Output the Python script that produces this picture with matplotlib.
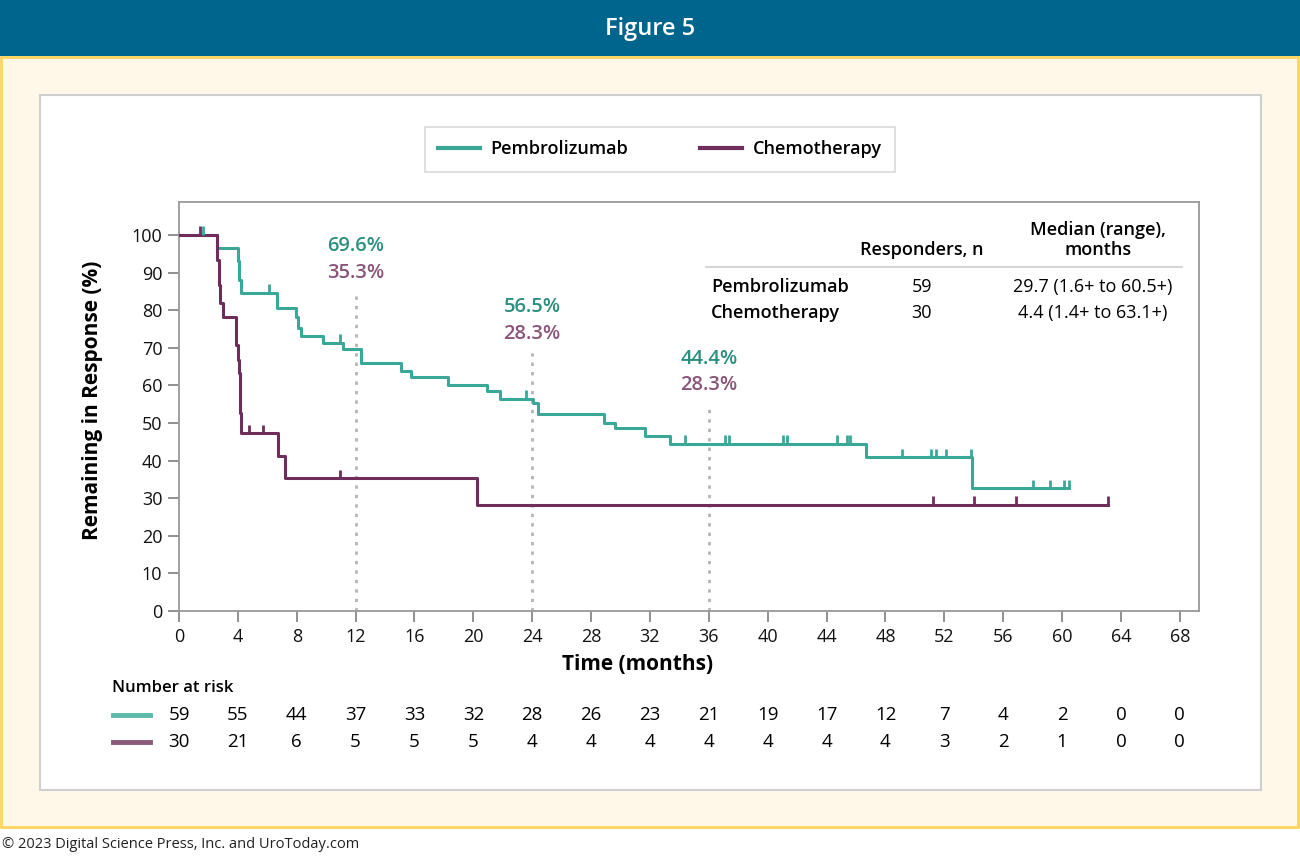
"""
Figure 5 - Duration of response, pembrolizumab vs chemotherapy
"""
import numpy as np
import matplotlib
matplotlib.use("Agg")
import matplotlib.pyplot as plt
from matplotlib.patches import Rectangle
from matplotlib.lines import Line2D
import matplotlib.transforms as mtransforms

plt.rcParams["font.family"] = ["Open Sans", "DejaVu Sans"]

# ── data ────────────────────────────────────────────────────────────────────
pem_t = [0, 2.56, 4.0, 4.1, 4.2, 6.68, 7.95, 8.1, 8.3, 9.8, 11.16, 12.34, 15.06,
         15.74, 18.3, 20.9, 21.8, 24.07, 24.4, 28.87, 29.6, 31.66, 33.36, 46.67,
         53.85, 60.5]
pem_s = [100, 96.6, 93.2, 88.1, 84.7, 80.5, 78.3, 75.2, 73.1, 71.4, 69.6, 65.9,
         63.8, 62.3, 60.1, 58.5, 56.5, 55.2, 52.4, 50.1, 48.6, 46.5, 44.4, 40.9,
         32.6, 32.6]
pem_cens = [1.6, 6.1, 10.94, 23.6, 34.4, 37.1, 37.4, 41.05, 41.3, 44.7, 45.4, 45.6,
            49.1, 51.1, 51.4, 52.1, 53.8, 58.0, 59.2, 60.1, 60.5]

chemo_t = [0, 2.6, 2.7, 2.8, 2.97, 3.85, 4.03, 4.1, 4.15, 4.2, 6.75, 7.2, 20.25, 63.1]
chemo_s = [100, 93.3, 86.7, 81.8, 78.1, 70.7, 66.7, 63.2, 52.6, 47.3, 41.2, 35.3,
           28.3, 28.3]
chemo_cens = [1.4, 4.73, 5.68, 10.94, 51.2, 54.0, 56.9, 63.1]

landmark_months = [12, 24, 36]
landmark_pem = ["69.6%", "56.5%", "44.4%"]
landmark_chemo = ["35.3%", "28.3%", "28.3%"]

risk_months = list(range(0, 72, 4))
risk_pem = [59, 55, 44, 37, 33, 32, 28, 26, 23, 21, 19, 17, 12, 7, 4, 2, 0, 0]
risk_chemo = [30, 21, 6, 5, 5, 5, 4, 4, 4, 4, 4, 4, 4, 3, 2, 1, 0, 0]

table_rows = ["Pembrolizumab", "Chemotherapy"]
table_n = ["59", "30"]
table_median = ["29.7 (1.6+ to 60.5+)", "4.4 (1.4+ to 63.1+)"]

TEAL = "#3aa897"
PURPLE = "#6f2d5c"
TEAL_TXT = "#2a8f7d"
PURPLE_TXT = "#8a5579"
W, H = 1300, 856


def fx(px):
    return px / W


def fy(py):
    return 1 - py / H


fig = plt.figure(figsize=(13, 8.56), dpi=100, facecolor="white")

# ── frame: header band, cream panel, white card ────────────────────────────
fig.patches.append(Rectangle((0, fy(56)), 1, 56 / H, transform=fig.transFigure,
                             facecolor="#00658c", edgecolor="none", zorder=-3))
fig.patches.append(Rectangle((fx(1), fy(827)), fx(1297), (827 - 57) / H,
                             transform=fig.transFigure, facecolor="#fff8e8",
                             edgecolor="#ffd45c", linewidth=2, zorder=-3))
fig.patches.append(Rectangle((fx(40), fy(790)), fx(1221), (790 - 95) / H,
                             transform=fig.transFigure, facecolor="white",
                             edgecolor="#cfcfcf", linewidth=1.5, zorder=-2))
fig.text(0.5, fy(29), "Figure 5", color="white", fontsize=17, fontweight="semibold",
         ha="center", va="center")
fig.text(fx(2), fy(845), "© 2023 Digital Science Press, Inc. and UroToday.com",
         fontsize=10.5, color="#222222", ha="left", va="center")

# ── KM plot ─────────────────────────────────────────────────────────────────
ax = fig.add_axes([fx(179), fy(611), fx(1199) - fx(179), (611 - 202) / H])
ax.set_zorder(2)
ax.set_facecolor("white")
ax.set_xlim(0, 69.3)
ax.set_ylim(0, 108.8)

ax.step(pem_t, pem_s, where="post", color=TEAL, lw=2.2, zorder=3)
ax.step(chemo_t, chemo_s, where="post", color=PURPLE, lw=2.2, zorder=3)


def surv_at(times, surv, t):
    i = np.searchsorted(times, t, side="right") - 1
    return np.asarray(surv)[i]


ps = surv_at(pem_t, pem_s, pem_cens)
cs = surv_at(chemo_t, chemo_s, chemo_cens)
ax.vlines(pem_cens, ps, ps + 2.3, color=TEAL, lw=2, zorder=3)
ax.vlines(chemo_cens, cs, cs + 2.3, color=PURPLE, lw=2, zorder=3)

# landmark lines and labels
tops = [84.8, 68.6, 54.8]
ax.vlines(landmark_months, 0, tops, colors="#b5b5b5", linestyles=(0, (1.2, 2.2)),
          lw=2, zorder=2)
for m, top, tp, tc in zip(landmark_months, tops, landmark_pem, landmark_chemo):
    ax.text(m, top + 12.3, tp, color=TEAL_TXT, fontsize=14.5, fontweight="semibold",
            ha="center", va="center")
    ax.text(m, top + 5.2, tc, color=PURPLE_TXT, fontsize=14.5, fontweight="semibold",
            ha="center", va="center")

ax.set_xticks(range(0, 72, 4))
ax.set_yticks(range(0, 110, 10))
ax.tick_params(colors="#888888", labelcolor="#111111", labelsize=13, length=8,
               width=1.3, pad=4)
for sp in ax.spines.values():
    sp.set_color("#999999")
    sp.set_linewidth(1.3)

fig.text(fx(93), fy(400), "Remaining in Response (%)", rotation=90, fontsize=15,
         fontweight="bold", ha="center", va="center")
fig.text(fx(638), fy(664), "Time (months)", fontsize=15, fontweight="bold",
         ha="center", va="center")

# ── legend ──────────────────────────────────────────────────────────────────
handles = [Line2D([], [], color=TEAL, lw=3), Line2D([], [], color=PURPLE, lw=3)]
leg = fig.legend(handles, ["Pembrolizumab", "Chemotherapy"], ncol=2,
                 loc="center", bbox_to_anchor=(fx(660), fy(149.5)),
                 prop={"size": 13, "weight": "semibold"},
                 frameon=True, fancybox=False, edgecolor="#cfcfcf",
                 handlelength=2.3, handletextpad=0.6, columnspacing=4.0,
                 borderpad=0.75)
leg.get_frame().set_linewidth(1.2)

# ── inset table ─────────────────────────────────────────────────────────────
fig.text(fx(922), fy(250), "Responders, n", fontsize=13, fontweight="semibold",
         ha="center", va="center")
fig.text(fx(1098), fy(240), "Median (range),\nmonths", fontsize=13,
         fontweight="semibold", ha="center", va="center", linespacing=1.1)
fig.add_artist(Line2D([fx(706), fx(1182)], [fy(267), fy(267)], color="#cccccc",
                      lw=1.2, transform=fig.transFigure, zorder=5))
for i, (name, n, med) in enumerate(zip(table_rows, table_n, table_median)):
    yy = fy(287 + 26 * i)
    fig.text(fx(711), yy, name, fontsize=13, fontweight="semibold", ha="left",
             va="center", zorder=5)
    fig.text(fx(922), yy, n, fontsize=13, ha="center", va="center", zorder=5)
    fig.text(fx(1093), yy, med, fontsize=13, ha="center", va="center", zorder=5)

# ── number at risk ──────────────────────────────────────────────────────────
fig.text(fx(112), fy(688), "Number at risk", fontsize=12, fontweight="semibold",
         ha="left", va="center")
trans = mtransforms.blended_transform_factory(ax.transData, fig.transFigure)
for row, (vals, col) in enumerate([(risk_pem, "#5fb8ac"), (risk_chemo, "#8c5a7a")]):
    yy = fy(715 + 27 * row)
    fig.add_artist(Line2D([fx(113), fx(150)], [yy, yy], color=col, lw=3.5,
                          transform=fig.transFigure))
    for m, v in zip(risk_months, vals):
        ax.text(m, yy, str(v), transform=trans, fontsize=13.5, ha="center",
                va="center", clip_on=False)

plt.savefig("out.png", dpi=100, facecolor=fig.get_facecolor())
plt.close()
